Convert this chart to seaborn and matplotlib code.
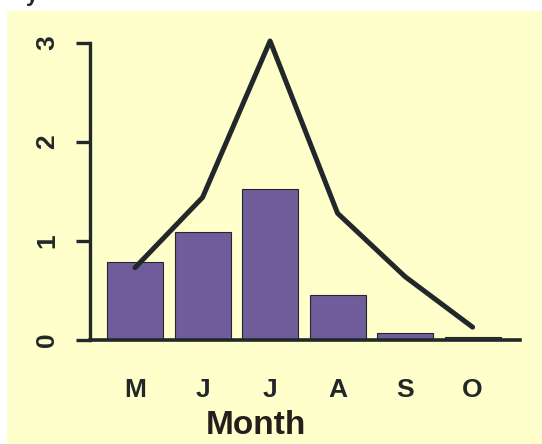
import numpy as np
import pandas as pd
import matplotlib
matplotlib.use("Agg")
import matplotlib.pyplot as plt
import seaborn as sns
from matplotlib.patches import Rectangle

# data
months = ["May", "Jun", "Jul", "Aug", "Sep", "Oct"]
tick_labels = ["M", "J", "J", "A", "S", "O"]
bar_values = [0.79, 1.09, 1.53, 0.45, 0.07, 0.03]
line_values = [0.73, 1.44, 3.02, 1.28, 0.64, 0.13]
y_ticks = [0, 1, 2, 3]

df = pd.DataFrame({"month": months, "bar": bar_values, "line": line_values})

sns.set_theme(style="white")
plt.rcParams["font.family"] = ["Liberation Sans", "DejaVu Sans"]
plt.rcParams["font.weight"] = "bold"

bg = "#FFFFCC"
ink = "#22272A"

fig = plt.figure(figsize=(5.42, 4.44), dpi=100, facecolor="white")
# yellow panel
fig.patches.append(Rectangle((7 / 542, 0), 535 / 542, 433 / 444,
                             transform=fig.transFigure, facecolor=bg,
                             edgecolor="none", zorder=-10))

ax = fig.add_axes([90 / 542, (444 - 352) / 444, 440 / 542, 322 / 444])
ax.set_facecolor("none")

sns.barplot(data=df, x="month", y="bar", order=months, color="#705C9B",
            saturation=1, width=0.83, edgecolor=ink, linewidth=0.8, ax=ax)
sns.lineplot(data=df, x="month", y="line", sort=False, color=ink,
             linewidth=3.6, ax=ax, zorder=5)

ax.set_xlim(-0.667, 5.85)
ax.set_ylim(-0.121, 3.131)

for s in ["top", "right"]:
    ax.spines[s].set_visible(False)
ax.spines["left"].set_bounds(0, 3)
ax.spines["left"].set_linewidth(2.4)
ax.spines["left"].set_color(ink)
ax.spines["bottom"].set_position(("data", 0))
ax.spines["bottom"].set_bounds(-0.667, 5.7)
ax.spines["bottom"].set_linewidth(2.6)
ax.spines["bottom"].set_color(ink)

ax.set_yticks(y_ticks)
ax.set_yticklabels([str(t) for t in y_ticks], rotation=90, va="center",
                   fontsize=19, fontweight="bold", color=ink)
ax.tick_params(axis="y", left=True, length=10, width=2.4, color=ink, pad=12)

ax.set_xticks(range(len(months)))
ax.set_xticklabels(tick_labels, fontsize=19, fontweight="bold", color=ink)
ax.tick_params(axis="x", bottom=False, length=0, pad=27)

ax.set_ylabel("")
ax.set_xlabel("Month", fontsize=24, fontweight="bold", color="#231F1C")
ax.xaxis.set_label_coords((256 - 90) / 440, (352 - 425) / 322)
ax.xaxis.label.set_verticalalignment("center")

# clipped title glyph at the very top
fig.text(32 / 542, 1 - 1 / 444, "y", fontsize=16, fontweight="bold",
         color=ink, ha="center", va="baseline")

fig.savefig("out.png", dpi=100, facecolor="white")
